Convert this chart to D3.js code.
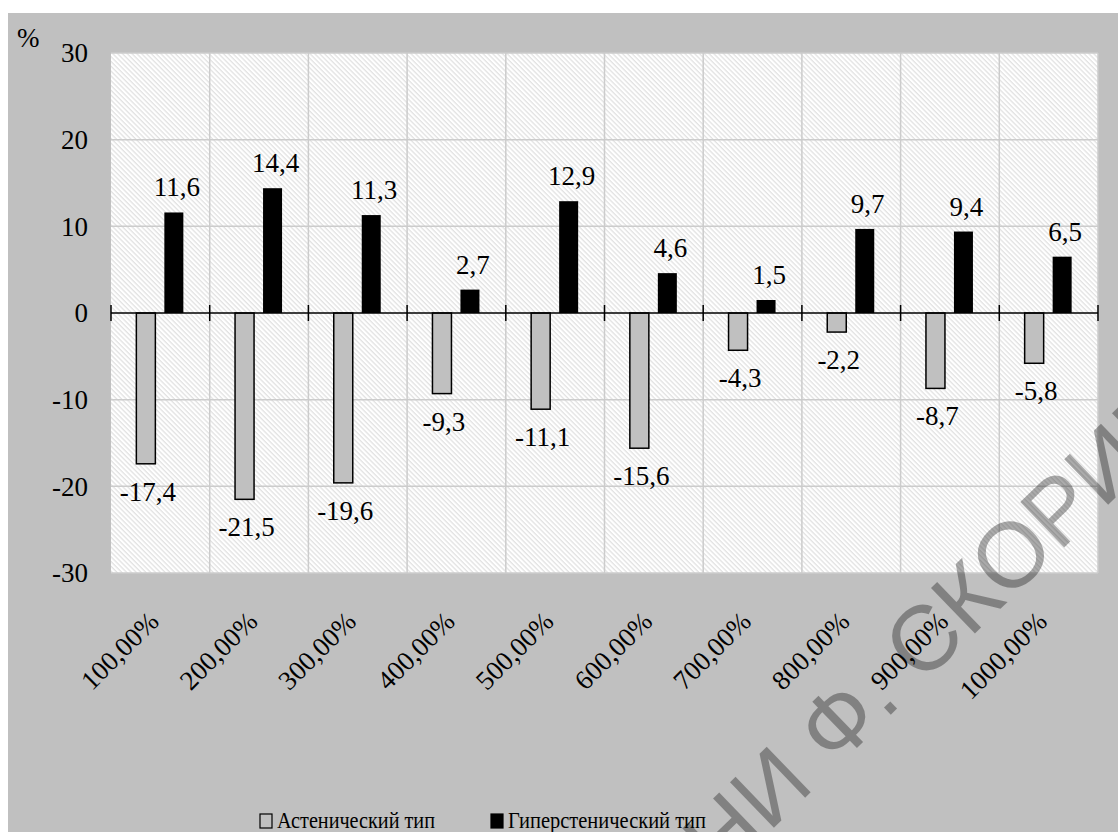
<!DOCTYPE html>
<html lang="ru">
<head>
    <meta charset="UTF-8">
    <title>Астенический / гиперстенический тип</title>
    <script type="text/javascript" src="https://d3js.org/d3.v7.min.js"></script>
    <style>
        body{
            margin: 0;
            background-color: white;
        }
    </style>
</head>
<body>
    <script type="text/javascript">
        // данные
        var categories = ["100,00%","200,00%","300,00%","400,00%","500,00%","600,00%","700,00%","800,00%","900,00%","1000,00%"];
        var seriesNames = ["Астенический тип", "Гиперстенический тип"];
        var astenic = [-17.4, -21.5, -19.6, -9.3, -11.1, -15.6, -4.3, -2.2, -8.7, -5.8];
        var hyper = [11.6, 14.4, 11.3, 2.7, 12.9, 4.6, 1.5, 9.7, 9.4, 6.5];
        var yTicks = [-30, -20, -10, 0, 10, 20, 30];

        var width = 1118;
        var height = 832;
        var plot = {left: 111, right: 1098, top: 53, bottom: 573};
        var serif = "'Liberation Serif', 'Times New Roman', 'DejaVu Serif', serif";
        var sans = "'Liberation Sans', Arial, sans-serif";

        var svg = d3.select("body").append("svg")
                .attr("width", width)
                .attr("height", height)
                .style("font-family", serif);

        // штриховка области построения
        var defs = svg.append("defs");
        var pat = defs.append("pattern")
                .attr("id", "hatch")
                .attr("patternUnits", "userSpaceOnUse")
                .attr("width", 3.4)
                .attr("height", 3.4)
                .attr("patternTransform", "rotate(-45)");
        pat.append("rect").attr("width", 3.4).attr("height", 3.4).attr("fill", "white");
        pat.append("line")
                .attr("x1", 1).attr("y1", 0).attr("x2", 1).attr("y2", 3.4)
                .attr("stroke", "#dadada")
                .attr("stroke-width", 1);

        // серый фон
        svg.append("rect")
                .attr("x", 8).attr("y", 13)
                .attr("width", width - 8).attr("height", height - 13)
                .attr("fill", "#c0c0c0");

        svg.append("rect")
                .attr("x", plot.left).attr("y", plot.top)
                .attr("width", plot.right - plot.left)
                .attr("height", plot.bottom - plot.top)
                .attr("fill", "url(#hatch)");

        // шкалы
        var x0 = d3.scaleBand()
                .domain(categories)
                .range([plot.left, plot.right])
                .padding(0);
        var bw = x0.bandwidth();
        var x1 = d3.scaleBand()
                .domain([0, 1])
                .range([bw / 2 - 24, bw / 2 + 23])
                .paddingInner(0.321)
                .paddingOuter(0);
        var y = d3.scaleLinear()
                .domain([-30, 30])
                .range([plot.bottom, plot.top]);

        // сетка
        var grid = svg.append("g");
        grid.selectAll(".hgrid")
                .data(yTicks.filter(function(d){ return d != 0; }))
                .enter()
                .append("line")
                .attr("x1", plot.left).attr("x2", plot.right)
                .attr("y1", function(d){ return y(d); })
                .attr("y2", function(d){ return y(d); })
                .attr("stroke", "#cccccc")
                .attr("stroke-width", 1.5);
        var bounds = categories.map(function(c){ return x0(c); }).concat([plot.right]);
        grid.selectAll(".vgrid")
                .data(bounds.slice(1))
                .enter()
                .append("line")
                .attr("x1", function(d){ return d; })
                .attr("x2", function(d){ return d; })
                .attr("y1", plot.top).attr("y2", plot.bottom)
                .attr("stroke", "#cccccc")
                .attr("stroke-width", 1.5);

        // подписи оси Y
        svg.append("g")
                .selectAll("text")
                .data(yTicks)
                .enter()
                .append("text")
                .attr("x", 88)
                .attr("y", function(d){ return y(d); })
                .attr("dy", "0.34em")
                .attr("text-anchor", "end")
                .attr("font-size", 27)
                .style("font-family", serif)
                .text(function(d){ return d; });

        svg.append("text")
                .attr("x", 17).attr("y", 47)
                .attr("font-size", 27)
                .style("font-family", serif)
                .text("%");

        // столбцы
        var bars = svg.append("g");
        bars.selectAll(".ast")
                .data(astenic)
                .enter()
                .append("rect")
                .attr("x", function(d, i){ return x0(categories[i]) + x1(0); })
                .attr("y", y(0))
                .attr("width", x1.bandwidth())
                .attr("height", function(d){ return y(d) - y(0); })
                .attr("fill", "#c0c0c0")
                .attr("stroke", "black")
                .attr("stroke-width", 1.5);
        bars.selectAll(".hyp")
                .data(hyper)
                .enter()
                .append("rect")
                .attr("x", function(d, i){ return x0(categories[i]) + x1(1); })
                .attr("y", function(d){ return y(d); })
                .attr("width", x1.bandwidth())
                .attr("height", function(d){ return y(0) - y(d); })
                .attr("fill", "black");

        // ось 0 и засечки
        svg.append("line")
                .attr("x1", plot.left).attr("x2", plot.right)
                .attr("y1", y(0)).attr("y2", y(0))
                .attr("stroke", "black")
                .attr("stroke-width", 1.5);
        svg.append("g")
                .selectAll("line")
                .data(bounds)
                .enter()
                .append("line")
                .attr("x1", function(d){ return d; })
                .attr("x2", function(d){ return d; })
                .attr("y1", y(0) - 8).attr("y2", y(0) + 8)
                .attr("stroke", "black")
                .attr("stroke-width", 1.5);

        // подписи значений
        var fmt = function(v){ return String(v).replace(".", ","); };
        var labels = svg.append("g").attr("font-size", 27).attr("text-anchor", "middle");
        labels.selectAll(".al")
                .data(astenic)
                .enter()
                .append("text")
                .style("font-family", serif)
                .attr("x", function(d, i){ return x0(categories[i]) + x1(0) + x1.bandwidth() / 2 + 2; })
                .attr("y", function(d){ return y(d) + 37; })
                .text(fmt);
        labels.selectAll(".hl")
                .data(hyper)
                .enter()
                .append("text")
                .style("font-family", serif)
                .attr("x", function(d, i){ return x0(categories[i]) + x1(1) + x1.bandwidth() / 2 + 3; })
                .attr("y", function(d){ return y(d) - 16; })
                .text(fmt);

        // подписи категорий
        svg.append("g")
                .selectAll("text")
                .data(categories)
                .enter()
                .append("text")
                .attr("text-anchor", "end")
                .attr("font-size", 27)
                .style("font-family", serif)
                .attr("transform", function(d){
                    return "translate(" + (x0(d) + bw / 2) + ",623) rotate(-45)";
                })
                .text(function(d){ return d; });

        // легенда
        var legend = svg.append("g");
        var legX = [260, 491];
        var legW = [158, 198];
        legend.selectAll("rect")
                .data(seriesNames)
                .enter()
                .append("rect")
                .attr("x", function(d, i){ return legX[i]; })
                .attr("y", 814)
                .attr("width", 12).attr("height", 14)
                .attr("fill", function(d, i){ return i == 0 ? "#c0c0c0" : "black"; })
                .attr("stroke", "black")
                .attr("stroke-width", 1.2);
        legend.selectAll("text")
                .data(seriesNames)
                .enter()
                .append("text")
                .attr("x", function(d, i){ return legX[i] + 17; })
                .attr("y", 828)
                .attr("font-size", 24)
                .attr("textLength", function(d, i){ return legW[i]; })
                .attr("lengthAdjust", "spacingAndGlyphs")
                .style("font-family", serif)
                .text(function(d){ return d; });

        // водяной знак
        var wm = svg.append("g")
                .attr("transform", "translate(816,787) rotate(-44)")
                .attr("fill", "black")
                .attr("fill-opacity", 0.33)
                .attr("font-size", 92);
        wm.append("text")
                .attr("text-anchor", "end")
                .style("font-family", sans)
                .text("РЕПОЗИТОРИЙ ГГУ ИМЕНИ");
        wm.append("text")
                .attr("text-anchor", "start")
                .attr("dx", "0.28em")
                .style("font-family", sans)
                .text("Ф. СКОРИНЫ");
    </script>
</body>
</html>
